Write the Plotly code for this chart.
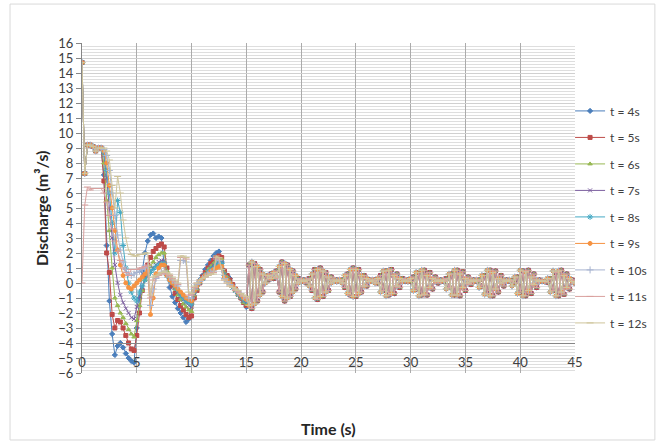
import plotly.graph_objects as go

# ---------------- data ----------------
step = 0.25                      # sampling interval of the series (s)
n_points = 181                   # 0 .. 45 s
time = [round(i * step, 2) for i in range(n_points)]

series_names = ["t = 4s", "t = 5s", "t = 6s", "t = 7s", "t = 8s",
                "t = 9s", "t = 10s", "t = 11s", "t = 12s"]

x_tick_vals = [0, 5, 10, 15, 20, 25, 30, 35, 40, 45]
x_tick_text = ["0", "5", "10", "15", "20", "25", "30", "35", "40", "45"]
y_tick_vals = list(range(-6, 17))

# first 2 s (t = 0 .. 1.75)
start_common = [14.7, 7.3, 9.2, 9.2, 9.1, 8.8, 9.0, 9.0]
start_t11 = [0.0, 5.2, 6.4, 6.2, 6.3, 6.3, 6.3, 6.3]

# t = 2.0 .. 15.0
head_t4 = [7.2, 2.5, -1.2, -3.4, -4.8, -4.2, -4.0, -4.3,
           -4.7, -5.0, -5.2, -5.3, -3.0, -1.0, 0.8, 2.0,
           2.8, 3.2, 3.3, 3.0, 3.1, 3.0, 1.2, 0.5,
           -0.3, -0.9, -1.3, -1.7, -2.0, -2.3, -2.6, -2.4,
           -1.2, -0.6, -0.2, 0.2, 0.5, 0.9, 1.2, 1.5,
           1.8, 2.0, 2.1, 1.4, 0.8, 0.5, 0.3, -0.1,
           -0.4, -0.7, -1.0, -1.3, -1.6]
head_t5 = [6.8, 2.0, 0.7, -2.1, -3.0, -2.5, -2.6, -3.0,
           -3.5, -4.0, -4.4, -4.5, -3.5, -2.0, -0.5, 0.5,
           1.2, 1.7, 2.1, 2.3, 2.5, 2.6, 2.4, 1.0,
           0.4, -0.2, -0.7, -1.1, -1.5, -1.8, -2.1, -2.3,
           -2.2, -1.0, -0.5, 0.0, 0.4, 0.7, 1.0, 1.3,
           1.5, 1.7, 1.8, 1.7, 0.8, 0.5, 0.2, -0.1,
           -0.4, -0.7, -1.0, -1.3, -1.5]
head_t6 = [8.0, 5.5, 3.5, 1.0, -1.0, -1.5, -2.0, -2.3,
           -2.7, -3.1, -3.4, -3.6, -2.5, -1.5, -0.5, 0.2,
           0.7, 1.1, 1.4, 1.7, 1.9, 2.0, 2.0, 0.8,
           0.4, 0.0, -0.4, -0.8, -1.1, -1.4, -1.6, -1.8,
           -1.9, -0.8, -0.4, 0.0, 0.3, 0.6, 0.9, 1.1,
           1.3, 1.5, 1.6, 1.6, 0.7, 0.4, 0.1, -0.2,
           -0.5, -0.8, -1.0, -1.3, -1.4]
head_t7 = [8.5, 7.0, 5.0, 3.0, 1.2, 0.0, -0.8, -1.3,
           -1.7, -2.0, -2.3, -2.4, -1.6, -0.9, -0.3, 0.2,
           0.5, 0.8, 1.0, 1.2, 1.4, 1.5, 1.5, 0.6,
           0.3, 0.0, -0.3, -0.6, -0.9, -1.1, -1.3, -1.5,
           -1.6, -0.7, -0.3, 0.0, 0.3, 0.5, 0.8, 1.0,
           1.2, 1.3, 1.4, 1.4, 0.6, 0.3, 0.0, -0.3,
           -0.5, -0.8, -1.0, -1.2, -1.3]
head_t8 = [8.7, 7.5, 6.0, 4.0, 2.0, 5.5, 4.7, 2.5,
           1.0, 0.0, -0.6, -1.0, -1.2, -0.6, -0.2, 0.2,
           0.5, 0.7, 0.9, 1.1, 1.2, 1.3, 1.3, 0.5,
           0.2, 0.0, -0.3, -0.5, -0.8, -1.0, -1.2, -1.3,
           -1.4, -0.6, -0.2, 0.1, 0.3, 0.5, 0.7, 0.9,
           1.0, 1.2, 1.3, 1.3, 0.5, 0.2, 0.0, -0.3,
           -0.5, -0.7, -0.9, -1.1, -1.2]
head_t9 = [8.8, 8.0, 6.5, 5.0, 3.5, 2.2, 1.2, 0.5,
           0.0, -0.3, -0.4, -0.2, 0.0, 0.2, 0.4, 0.6,
           0.8, -2.1, -1.0, 0.6, 1.0, 1.2, 1.2, 0.5,
           0.2, 0.0, -0.2, -0.4, -0.6, -0.8, -1.0, -1.1,
           -1.2, -0.5, -0.2, 0.1, 0.3, 0.5, 0.6, 0.8,
           0.9, 1.0, 1.1, 1.1, 0.4, 0.2, 0.0, -0.2,
           -0.4, -0.6, -0.8, -1.0, -1.1]
head_t10 = [8.9, 8.5, 7.5, 6.0, 4.5, 3.2, 2.2, 1.4,
            0.9, 0.6, 0.5, 0.6, 0.7, 0.8, 0.9, 1.0,
            1.1, -1.5, -0.4, 0.3, 0.5, 0.7, 0.8, 0.6,
            0.4, 0.2, 0.0, -0.2, 1.5, 1.5, 1.4, -1.0,
            -1.0, -0.4, -0.1, 0.1, 0.3, 0.4, 0.6, 0.7,
            0.8, 1.6, 1.5, 0.9, 0.3, 0.1, -0.1, -0.3,
            -0.4, -0.6, -0.7, -0.9, -1.0]
head_t11 = [6.0, 5.4, 4.5, 3.6, 2.8, 2.1, 1.5, 1.0,
            0.7, 0.5, 0.9, 0.9, 0.9, 1.0, 1.0, 1.1,
            1.2, -1.0, 0.2, 0.4, 0.5, 0.6, 0.7, 0.6,
            0.5, 0.3, 0.1, -0.1, 1.7, 1.7, 1.6, -0.8,
            -0.8, -0.3, 0.0, 0.2, 0.3, 0.4, 0.5, 0.6,
            0.7, 1.7, 1.6, 0.9, 0.2, 0.0, -0.2, -0.3,
            -0.5, -0.6, -0.8, -0.9, -1.0]
head_t12 = [9.0, 8.8, 8.2, 6.5, 5.0, 7.1, 6.0, 4.2,
            3.0, 2.2, 1.9, 1.8, 1.8, 1.9, 1.9, 2.0,
            2.0, -0.8, 0.4, 0.5, 0.6, 0.7, 0.8, 0.7,
            0.6, 0.4, 0.2, 0.0, 1.8, 1.8, 1.7, -0.6,
            -0.7, -0.2, 0.0, 0.2, 0.3, 0.4, 0.5, 0.6,
            0.6, 1.8, 1.7, 0.9, 0.2, 0.0, -0.2, -0.3,
            -0.4, -0.5, -0.7, -0.8, -0.9]

# t = 15.25 .. 45.0
tail_a = [1.2, -1.7, 1.3, -1.2, 0.9, -0.6, 0.5, 0.2, 0.6, 0.3, 0.8, -0.6,
          1.4, -1.2, 1.2, -0.9, 0.8, -0.4, 0.3, 0.1, 0.2, 0.0, 0.3, -0.5,
          0.9, -1.1, 1.0, -0.9, 0.7, -0.5, 0.4, 0.1, 0.2, 0.1, 0.2, -0.3,
          0.6, -0.8, 1.0, -0.9, 0.9, -0.6, 0.5, -0.2, 0.2, 0.1, 0.2, 0.0,
          0.5, -0.5, 0.8, -0.8, 0.9, -0.7, 0.6, -0.3, 0.3, 0.1, 0.2, 0.1,
          0.4, -0.4, 0.7, -0.8, 0.85, -0.8, 0.7, -0.4, 0.4, 0.0, 0.2, 0.1,
          0.3, -0.3, 0.6, -0.8, 0.85, -0.85, 0.75, -0.5, 0.4, -0.1, 0.2, 0.1,
          0.2, -0.2, 0.5, -0.7, 0.85, -0.85, 0.8, -0.6, 0.5, -0.2, 0.2, 0.1,
          0.15, 0.0, 0.4, -0.6, 0.8, -0.85, 0.85, -0.7, 0.6, -0.3, 0.2, 0.1,
          0.1, 0.05, 0.3, -0.5, 0.7, -0.85, 0.85, -0.75, 0.6, -0.4, 0.2, 0.0]
tail_b = [-1.5, 1.4, -1.4, 1.1, -0.8, 0.6, 0.0, 0.5, 0.3, 0.7, 0.4, 1.1,
          -0.9, 1.3, -1.0, 0.9, -0.6, 0.5, 0.0, 0.2, 0.1, 0.2, -0.2, 0.6,
          -1.0, 0.9, -0.9, 0.8, -0.6, 0.4, 0.0, 0.2, 0.1, 0.2, 0.0, 0.5,
          -0.7, 0.9, -0.9, 0.9, -0.7, 0.5, -0.2, 0.3, 0.1, 0.2, 0.0, 0.3,
          -0.6, 0.8, -0.85, 0.85, -0.7, 0.5, -0.2, 0.3, 0.1, 0.2, 0.1, 0.3,
          -0.5, 0.7, -0.85, 0.85, -0.75, 0.5, -0.3, 0.3, 0.1, 0.2, 0.1, 0.2,
          -0.4, 0.6, -0.8, 0.85, -0.8, 0.6, -0.3, 0.3, 0.0, 0.2, 0.1, 0.2,
          -0.3, 0.5, -0.75, 0.85, -0.85, 0.7, -0.4, 0.3, 0.0, 0.2, 0.1, 0.2,
          -0.2, 0.4, -0.7, 0.85, -0.85, 0.75, -0.5, 0.4, -0.1, 0.2, 0.1, 0.15,
          0.1, 0.3, -0.6, 0.8, -0.85, 0.8, -0.6, 0.5, -0.3, 0.3, 0.1, 0.0]

series_values = [
    start_common + head_t4 + tail_a,
    start_common + head_t5 + tail_a,
    start_common + head_t6 + tail_a,
    start_common + head_t7 + tail_a,
    start_common + head_t8 + tail_b,
    start_common + head_t9 + tail_b,
    start_common + head_t10 + tail_b,
    start_t11 + head_t11 + tail_a,
    start_common + head_t12 + tail_b,
]

# ---------------- style ----------------
line_colors = ["#4A7EBB", "#BE4B48", "#98B954", "#7D60A0", "#46AAC5",
               "#F69240", "#A7B4D0", "#D9A09E", "#CFC59A"]
marker_symbols = ["diamond", "square", "triangle-up", "x-thin-open",
                  "asterisk-open", "circle", "cross-thin-open",
                  "line-ew-open", "line-ew-open"]
marker_sizes = [4, 4, 4, 4, 5, 4, 5, 5, 5]

FONT = "Lato, Carlito, Calibri, 'Liberation Sans', sans-serif"

fig = go.Figure()
for name, vals, col, sym, ms in zip(series_names, series_values, line_colors,
                                    marker_symbols, marker_sizes):
    assert len(vals) == len(time), (name, len(vals))
    fig.add_trace(go.Scatter(
        x=time, y=vals, name=name, legendgroup=name,
        mode="lines+markers",
        line=dict(color=col, width=1),
        marker=dict(symbol=sym, size=ms, color=col, line=dict(color=col, width=1)),
    ))

# The figure is a little wider than the 656 px window so that the legend,
# which sits right of the plot, never forces plotly to shrink the plot area;
# the surplus on the right is simply clipped by the window (overflow hidden).
fig.update_layout(
    width=700, height=441,
    margin=dict(l=82, r=125, t=43, b=68),
    paper_bgcolor="white", plot_bgcolor="white",
    font=dict(family=FONT, size=13, color="#404040"),
    legend=dict(x=0.990, y=0.473, xanchor="left", yanchor="middle",
                traceorder="grouped", tracegroupgap=7.5,
                font=dict(family=FONT, size=12, color="#404040"),
                bgcolor="rgba(0,0,0,0)", itemwidth=30),
    xaxis=dict(range=[0, 45], tickvals=x_tick_vals, ticktext=x_tick_text,
               showgrid=True, gridcolor="#ABABAB", gridwidth=1,
               showline=True, linecolor="#868686", linewidth=1,
               anchor="free", position=2 / 22,
               ticks="", zeroline=False, ticklabelstandoff=7,
               tickfont=dict(family=FONT, size=13, color="#404040")),
    yaxis=dict(range=[-6, 16], tickvals=y_tick_vals,
               showgrid=True, gridcolor="#D0D0D0", gridwidth=1,
               minor=dict(dtick=0.2, showgrid=True, gridcolor="#DEDEDE", gridwidth=1),
               showline=True, linecolor="#868686", linewidth=1,
               ticks="outside", ticklen=5, tickcolor="#868686",
               zeroline=False,
               tickfont=dict(family=FONT, size=13, color="#404040")),
    annotations=[
        dict(text="<b>Time (s)</b>", xref="paper", yref="paper",
             x=0.5, y=-0.167, xanchor="center", yanchor="middle",
             showarrow=False, font=dict(family=FONT, size=16, color="#262626")),
        dict(text="<b>Discharge (m³/s)</b>", xref="paper", yref="paper",
             x=-0.083, y=0.5, xanchor="center", yanchor="middle", textangle=-90,
             showarrow=False, font=dict(family=FONT, size=16, color="#262626")),
    ],
    shapes=[
        dict(type="rect", xref="paper", yref="paper",
             x0=-0.146, x1=1.162, y0=-0.203, y1=1.118,
             line=dict(color="#D9D9D9", width=1), fillcolor="rgba(0,0,0,0)",
             layer="below"),
    ],
)

fig.write_html(
    "out.html",
    config={"displayModeBar": False},
    post_script=("document.body.style.margin='0px';"
                 "document.body.style.overflow='hidden';"
                 "document.documentElement.style.overflow='hidden';"),
)
